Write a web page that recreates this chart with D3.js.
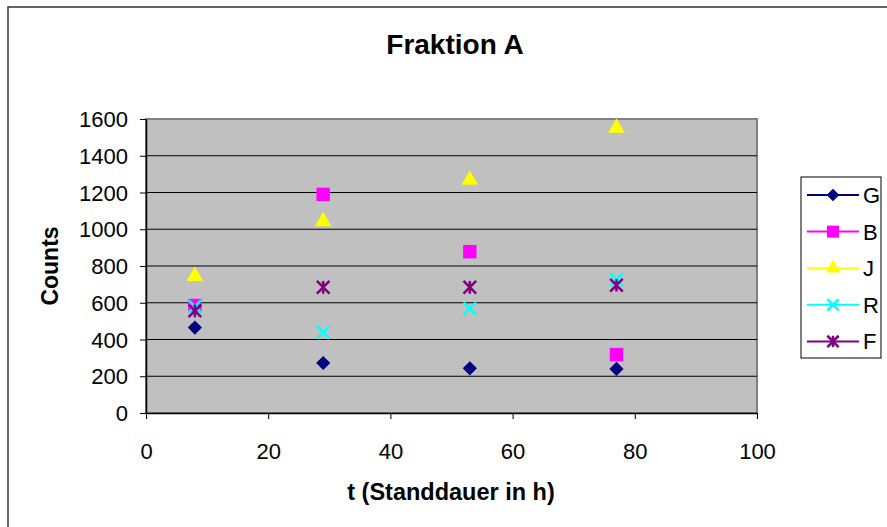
<!DOCTYPE html>
<html>
<head>
<meta charset="utf-8">
<script src="https://cdn.jsdelivr.net/npm/d3@7"></script>
<style>
  body { margin: 0; background: #fff; }
  text { font-family: "Liberation Sans", Arial, sans-serif; }
</style>
</head>
<body>
<div id="chart"></div>
<script>
// Werte
const tValues = [8, 29, 53, 77];
const seriesNames = ["G", "B", "J", "R", "F"];
const valuesG = [465, 272, 243, 240];
const valuesB = [585, 1190, 878, 318];
const valuesJ = [745, 1043, 1268, 1552];
const valuesR = [580, 440, 568, 725];
const valuesF = [556, 684, 684, 695];
const xTicks = [0, 20, 40, 60, 80, 100];
const yTicks = [0, 200, 400, 600, 800, 1000, 1200, 1400, 1600];

const seriesValues = [valuesG, valuesB, valuesJ, valuesR, valuesF];
const colors = ["#000080", "#ff00ff", "#ffff00", "#00ffff", "#800080"];

const W = 887, H = 527;
const plot = { left: 146, right: 757, top: 119, bottom: 413 };

const svg = d3.select("#chart").append("svg")
  .attr("width", W)
  .attr("height", H);

// äußerer Rahmen
svg.append("rect")
  .attr("x", 8).attr("y", 7)
  .attr("width", W + 10).attr("height", H + 10)
  .attr("fill", "#fff")
  .attr("stroke", "#333")
  .attr("stroke-width", 1.5);

const xScale = d3.scaleLinear().domain([0, 100]).range([plot.left, plot.right]);
const yScale = d3.scaleLinear().domain([0, 1600]).range([plot.bottom, plot.top]);

// Plotfläche
svg.append("rect")
  .attr("x", plot.left).attr("y", plot.top)
  .attr("width", plot.right - plot.left)
  .attr("height", plot.bottom - plot.top)
  .attr("fill", "#c0c0c0")
  .attr("stroke", "#808080")
  .attr("stroke-width", 2);

// Gitterlinien
svg.append("g")
  .selectAll("line")
  .data(yTicks.slice(1, -1))
  .enter()
  .append("line")
  .attr("x1", plot.left).attr("x2", plot.right)
  .attr("y1", d => yScale(d)).attr("y2", d => yScale(d))
  .attr("stroke", "#000")
  .attr("stroke-width", 1);

// Achsen
const yAxis = svg.append("g")
  .attr("transform", `translate(${plot.left},0)`)
  .call(d3.axisLeft(yScale).tickValues(yTicks).tickFormat(d3.format("d"))
    .tickSize(6).tickPadding(12).tickSizeOuter(0));
const xAxis = svg.append("g")
  .attr("transform", `translate(0,${plot.bottom})`)
  .call(d3.axisBottom(xScale).tickValues(xTicks).tickFormat(d3.format("d"))
    .tickSize(6).tickPadding(24).tickSizeOuter(0));

[xAxis, yAxis].forEach(a => {
  a.select(".domain").attr("stroke", "#000").attr("stroke-width", 1.5);
  a.selectAll(".tick line").attr("stroke", "#000");
  a.selectAll(".tick text")
    .attr("fill", "#000")
    .style("font-family", "'Liberation Sans', Arial, sans-serif")
    .style("font-size", "22px");
});
yAxis.selectAll(".tick text").attr("dy", "0.35em");

// Symbole
const diamond = {
  draw(ctx, size) {
    const r = Math.sqrt(size) / 2 * Math.SQRT2;
    ctx.moveTo(0, -r); ctx.lineTo(r, 0); ctx.lineTo(0, r); ctx.lineTo(-r, 0); ctx.closePath();
  }
};
const cross = {
  draw(ctx, size) {
    const r = Math.sqrt(size) / 2;
    ctx.moveTo(-r, -r); ctx.lineTo(r, r);
    ctx.moveTo(r, -r); ctx.lineTo(-r, r);
  }
};
const star = {
  draw(ctx, size) {
    const r = Math.sqrt(size) / 2;
    ctx.moveTo(-r, -r); ctx.lineTo(r, r);
    ctx.moveTo(r, -r); ctx.lineTo(-r, r);
    ctx.moveTo(0, -r); ctx.lineTo(0, r);
  }
};
const symbolTypes = [diamond, d3.symbolSquare, d3.symbolTriangle, cross, star];
const symbolSizes = [100, 180, 120, 160, 160];
const filled = [true, true, true, false, false];

function drawMarker(g, i, x, y, scale) {
  const path = d3.symbol().type(symbolTypes[i]).size(symbolSizes[i] * scale)();
  g.append("path")
    .attr("d", path)
    .attr("transform", `translate(${x},${y})`)
    .attr("fill", filled[i] ? colors[i] : "none")
    .attr("stroke", colors[i])
    .attr("stroke-width", filled[i] ? 0 : 2.5);
}

const marks = svg.append("g");
seriesValues.forEach((vals, i) => {
  vals.forEach((v, j) => {
    drawMarker(marks, i, xScale(tValues[j]), yScale(v), 1);
  });
});

// Titel
svg.append("text")
  .attr("x", 455).attr("y", 54)
  .attr("text-anchor", "middle")
  .attr("font-weight", "bold")
  .attr("font-size", 28)
  .text("Fraktion A");

svg.append("text")
  .attr("x", 451).attr("y", 500)
  .attr("text-anchor", "middle")
  .attr("font-weight", "bold")
  .attr("font-size", 23.5)
  .text("t (Standdauer in h)");

svg.append("text")
  .attr("transform", `translate(58,${(plot.top + plot.bottom) / 2}) rotate(-90)`)
  .attr("text-anchor", "middle")
  .attr("font-weight", "bold")
  .attr("font-size", 23)
  .text("Counts");

// Legende
const legend = svg.append("g");
legend.append("rect")
  .attr("x", 801).attr("y", 177)
  .attr("width", 80).attr("height", 181)
  .attr("fill", "#fff")
  .attr("stroke", "#000")
  .attr("stroke-width", 1);

seriesNames.forEach((name, i) => {
  const y = 195 + i * 36.6;
  legend.append("line")
    .attr("x1", 807).attr("x2", 859)
    .attr("y1", y).attr("y2", y)
    .attr("stroke", colors[i])
    .attr("stroke-width", 2);
  drawMarker(legend, i, 833, y, 0.8);
  legend.append("text")
    .attr("x", 863).attr("y", y)
    .attr("dy", "0.36em")
    .attr("font-size", 22)
    .text(name);
});
</script>
</body>
</html>
